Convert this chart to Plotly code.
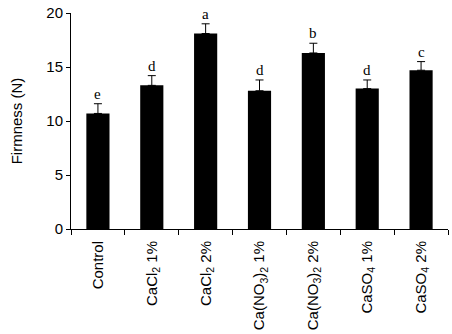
import plotly.graph_objects as go

categories = ["Control", "CaCl<sub>2</sub> 1%", "CaCl<sub>2</sub> 2%",
              "Ca(NO<sub>3</sub>)<sub>2</sub> 1%", "Ca(NO<sub>3</sub>)<sub>2</sub> 2%",
              "CaSO<sub>4</sub> 1%", "CaSO<sub>4</sub> 2%"]
firmness = [10.7, 13.3, 18.1, 12.8, 16.3, 13.0, 14.7]
errors = [0.9, 0.9, 0.9, 1.0, 0.9, 0.8, 0.8]
letters = ["e", "d", "a", "d", "b", "d", "c"]
y_ticks = [0, 5, 10, 15, 20]

fig = go.Figure()
fig.add_trace(go.Bar(
    x=categories, y=firmness,
    marker=dict(color="black", line=dict(width=0)),
    error_y=dict(type="data", array=errors, arrayminus=[0] * len(errors),
                 symmetric=False, color="black", thickness=1, width=4),
    showlegend=False,
))

for c, v, e, l in zip(categories, firmness, errors, letters):
    fig.add_annotation(x=c, y=v + e, text=l, showarrow=False, yanchor="bottom",
                       yshift=0, font=dict(family="Liberation Serif", size=15, color="black"))

fig.update_layout(
    width=452, height=334,
    margin=dict(l=71, r=4, t=13, b=105),
    paper_bgcolor="white", plot_bgcolor="white",
    bargap=0.57,
    font=dict(family="Liberation Sans", color="black"),
)
fig.update_xaxes(
    showline=True, linecolor="black", linewidth=1,
    ticks="outside", tickson="boundaries", ticklen=5, tickcolor="black",
    tickangle=-90, tickfont=dict(size=15, family="Liberation Sans"),
    ticklabelstandoff=5,
    range=[-0.5, 6.5], showgrid=False,
)
fig.update_yaxes(
    range=[0, 20], tickvals=y_ticks,
    showline=True, linecolor="black", linewidth=1,
    ticks="outside", ticklen=4, tickcolor="black",
    tickfont=dict(size=15, family="Liberation Sans"),
    showgrid=False, zeroline=False,
    title=dict(text="Firmness (N)", font=dict(size=15, family="Liberation Sans"), standoff=20),
)

fig.write_html("out.html", config={"displayModeBar": False},
               post_script="document.body.style.margin='0';document.body.style.overflow='hidden';")
